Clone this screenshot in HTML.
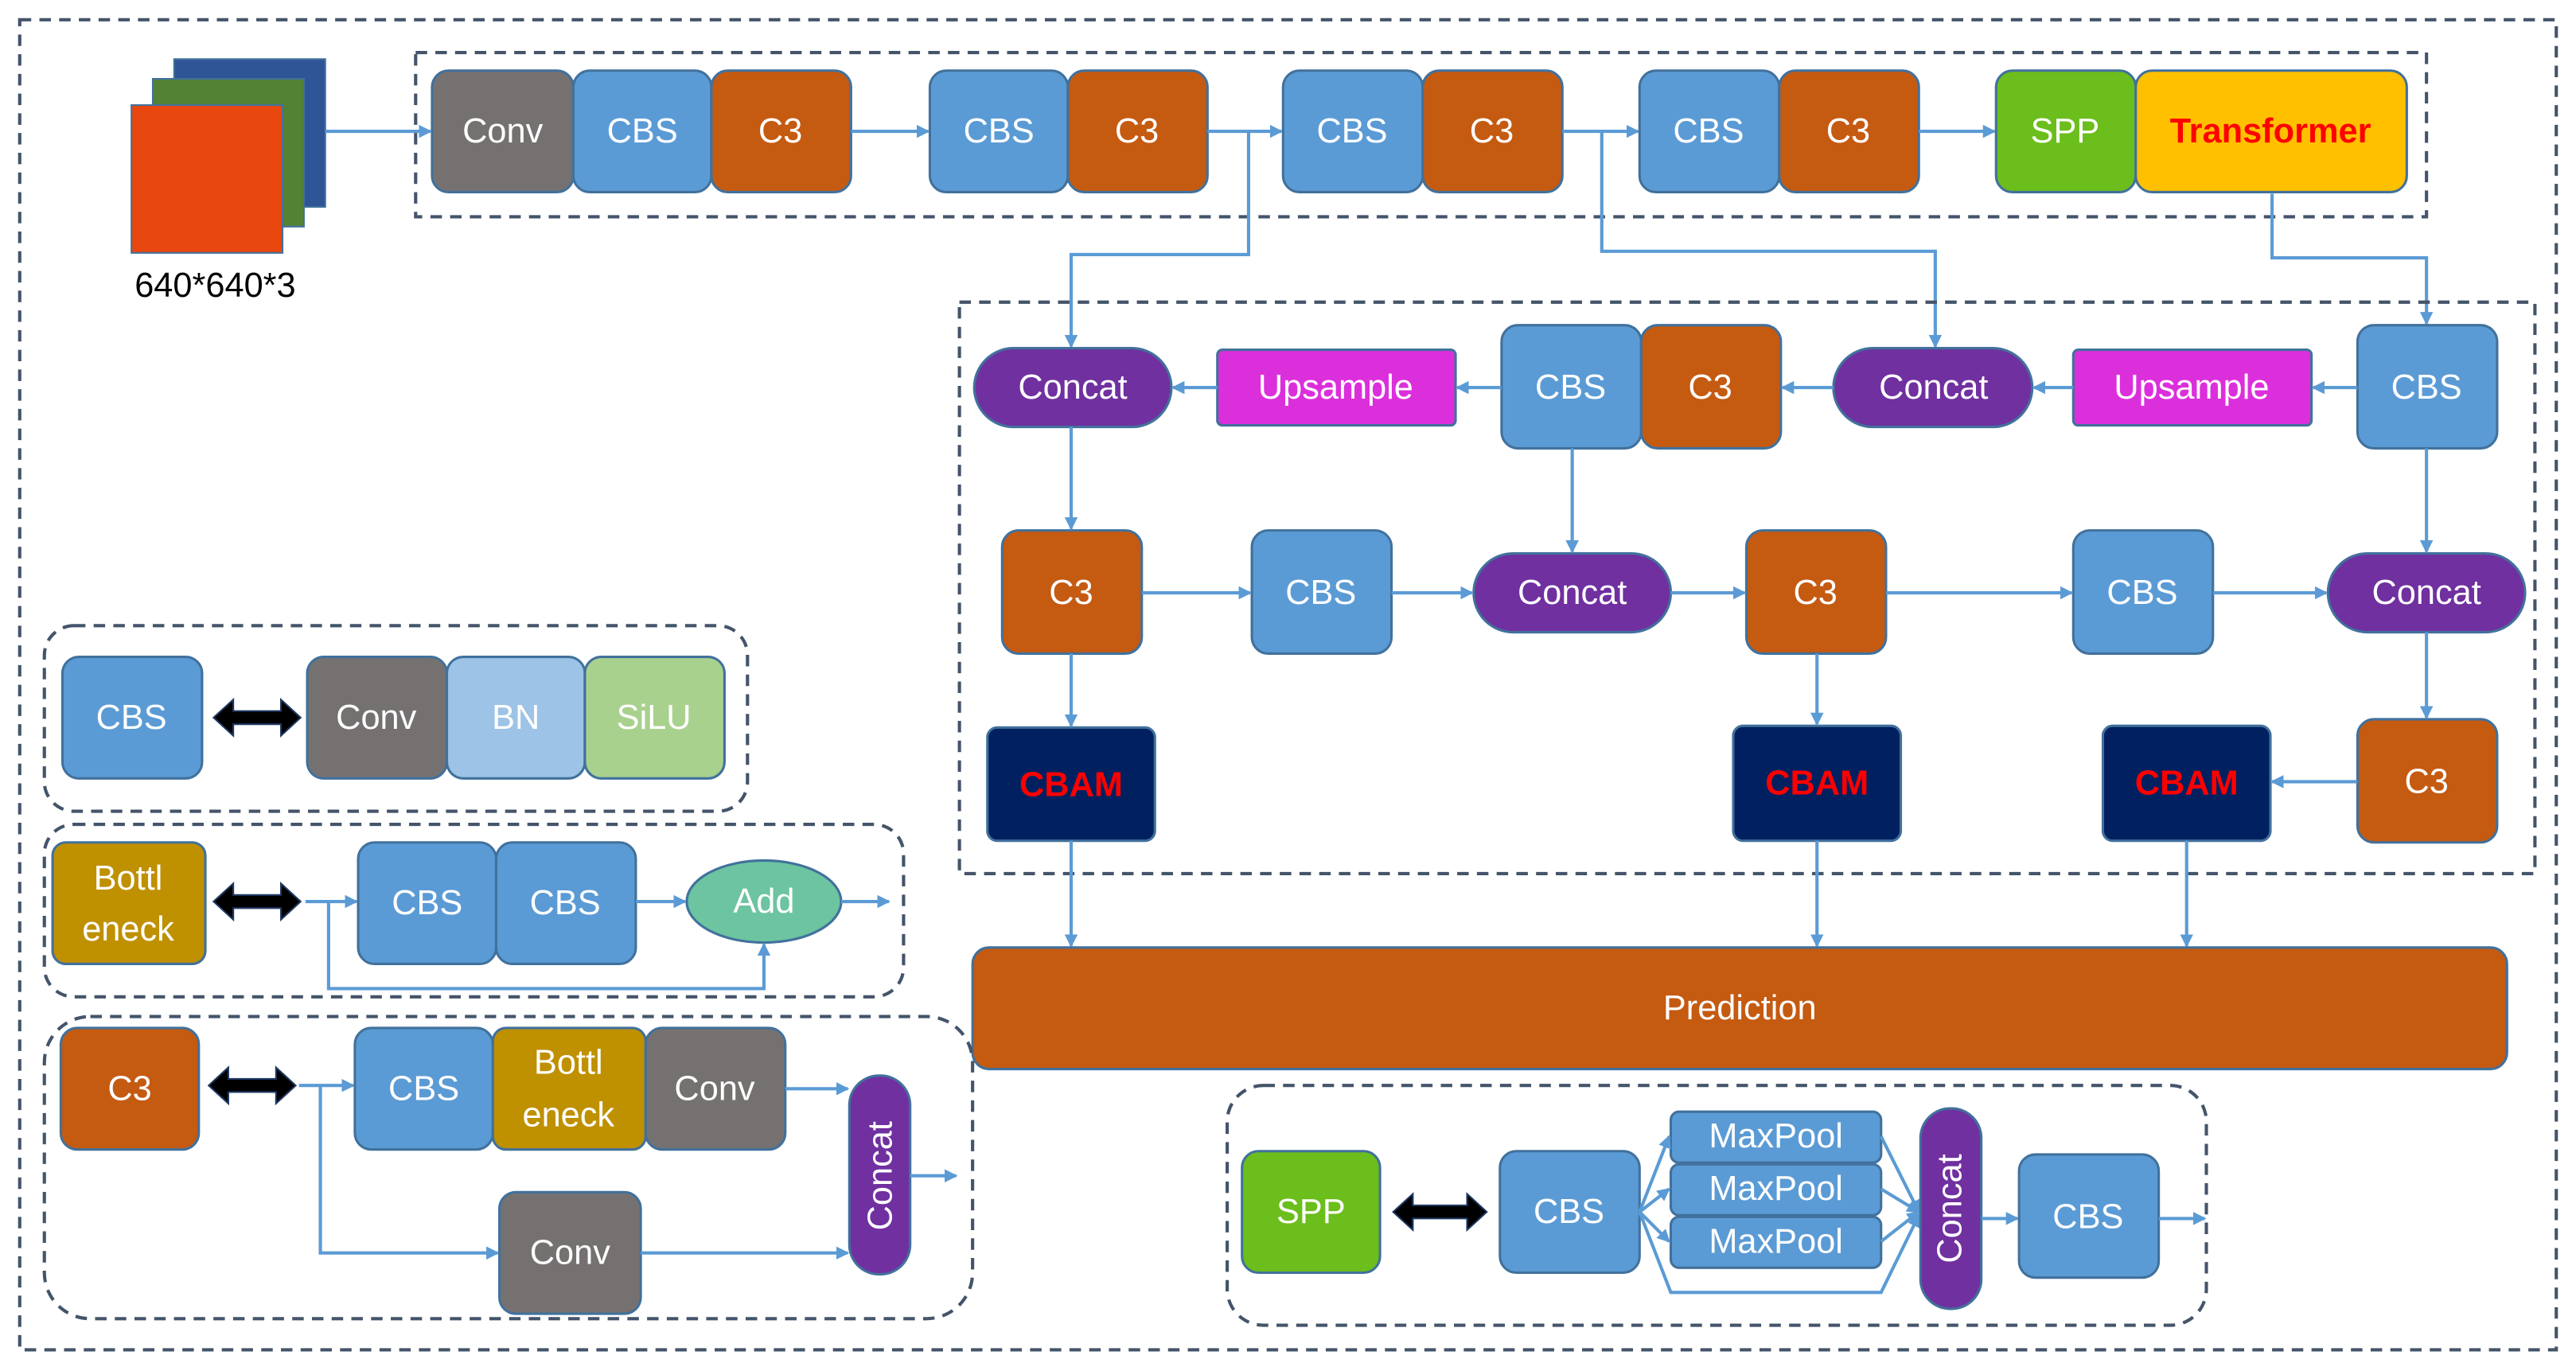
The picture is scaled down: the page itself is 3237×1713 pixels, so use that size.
<!DOCTYPE html>
<html><head><meta charset="utf-8"><style>
html,body{margin:0;padding:0;background:#fff;}
svg{display:block;}
text{font-family:"Liberation Sans",sans-serif;fill:#fff;font-size:21px;text-anchor:middle;dominant-baseline:central;}
.b{stroke:#41719C;stroke-width:1.5;}
.c{stroke:#5B9BD5;stroke-width:2;fill:none;}
.d{stroke:#44546A;stroke-width:2;fill:none;stroke-dasharray:7,5;}
</style></head><body>
<svg width="3237" height="1713" viewBox="0 0 1568 830" preserveAspectRatio="none" xmlns="http://www.w3.org/2000/svg">
<defs>
<marker id="a" markerWidth="8" markerHeight="8" refX="7" refY="4" orient="auto" markerUnits="userSpaceOnUse"><path d="M0,0 L8,4 L0,8 z" fill="#5B9BD5"/></marker>
</defs>
<!-- outer -->
<rect x="12" y="12" width="1544" height="810" class="d"/>
<!-- input -->
<rect x="106" y="36" width="92" height="90" fill="#2F5597" stroke="#41719C"/>
<rect x="93" y="48" width="92" height="90" fill="#548235" stroke="#41719C"/>
<rect x="80" y="64" width="92" height="90" fill="#E8470F" stroke="#41719C"/>
<text x="131" y="174" style="fill:#000;font-size:21px">640*640*3</text>
<path d="M198,80 L262,80" class="c" marker-end="url(#a)"/>
<!-- top box -->
<rect x="253" y="32" width="1224" height="100" class="d"/>
<rect x="263" y="43" width="86" height="74" rx="10" fill="#767171" class="b"/><text x="306" y="80">Conv</text>
<rect x="349" y="43" width="84" height="74" rx="10" fill="#5B9BD5" class="b"/><text x="391" y="80">CBS</text>
<rect x="433" y="43" width="85" height="74" rx="10" fill="#C55A11" class="b"/><text x="475" y="80">C3</text>
<path d="M518,80 L565,80" class="c" marker-end="url(#a)"/>
<rect x="566" y="43" width="84" height="74" rx="10" fill="#5B9BD5" class="b"/><text x="608" y="80">CBS</text>
<rect x="650" y="43" width="85" height="74" rx="10" fill="#C55A11" class="b"/><text x="692" y="80">C3</text>
<path d="M735,80 L780,80" class="c" marker-end="url(#a)"/>
<rect x="781" y="43" width="85" height="74" rx="10" fill="#5B9BD5" class="b"/><text x="823" y="80">CBS</text>
<rect x="866" y="43" width="85" height="74" rx="10" fill="#C55A11" class="b"/><text x="908" y="80">C3</text>
<path d="M951,80 L997,80" class="c" marker-end="url(#a)"/>
<rect x="998" y="43" width="85" height="74" rx="10" fill="#5B9BD5" class="b"/><text x="1040" y="80">CBS</text>
<rect x="1083" y="43" width="85" height="74" rx="10" fill="#C55A11" class="b"/><text x="1125" y="80">C3</text>
<path d="M1168,80 L1214,80" class="c" marker-end="url(#a)"/>
<rect x="1215" y="43" width="85" height="74" rx="10" fill="#6BBE1B" class="b"/><text x="1257" y="80">SPP</text>
<rect x="1300" y="43" width="165" height="74" rx="10" fill="#FFC000" class="b"/><text x="1382" y="80" style="fill:#FF0000;font-weight:bold">Transformer</text>
<!-- connectors down -->
<path d="M760,80 L760,155 L652,155 L652,211" class="c" marker-end="url(#a)"/>
<path d="M975,80 L975,153 L1178,153 L1178,211" class="c" marker-end="url(#a)"/>
<path d="M1383,118 L1383,157 L1477,157 L1477,197" class="c" marker-end="url(#a)"/>
<!-- middle box -->
<rect x="584" y="184" width="959" height="348" class="d"/>
<rect x="593" y="212" width="120" height="48" rx="24" fill="#7030A0" class="b"/><text x="653" y="236">Concat</text>
<rect x="741" y="213" width="145" height="46" fill="#DC2FDC" class="b" rx="3"/><text x="813" y="236">Upsample</text>
<rect x="914" y="198" width="85" height="75" rx="10" fill="#5B9BD5" class="b"/><text x="956" y="236">CBS</text>
<rect x="999" y="198" width="85" height="75" rx="10" fill="#C55A11" class="b"/><text x="1041" y="236">C3</text>
<rect x="1116" y="212" width="121" height="48" rx="24" fill="#7030A0" class="b"/><text x="1177" y="236">Concat</text>
<rect x="1262" y="213" width="145" height="46" fill="#DC2FDC" class="b" rx="3"/><text x="1334" y="236">Upsample</text>
<rect x="1435" y="198" width="85" height="75" rx="10" fill="#5B9BD5" class="b"/><text x="1477" y="236">CBS</text>
<path d="M1435,236 L1408,236" class="c" marker-end="url(#a)"/>
<path d="M1262,236 L1238,236" class="c" marker-end="url(#a)"/>
<path d="M1116,236 L1085,236" class="c" marker-end="url(#a)"/>
<path d="M914,236 L887,236" class="c" marker-end="url(#a)"/>
<path d="M741,236 L714,236" class="c" marker-end="url(#a)"/>
<!-- row 2 -->
<rect x="610" y="323" width="85" height="75" rx="10" fill="#C55A11" class="b"/><text x="652" y="361">C3</text>
<rect x="762" y="323" width="85" height="75" rx="10" fill="#5B9BD5" class="b"/><text x="804" y="361">CBS</text>
<rect x="897" y="337" width="120" height="48" rx="24" fill="#7030A0" class="b"/><text x="957" y="361">Concat</text>
<rect x="1063" y="323" width="85" height="75" rx="10" fill="#C55A11" class="b"/><text x="1105" y="361">C3</text>
<rect x="1262" y="323" width="85" height="75" rx="10" fill="#5B9BD5" class="b"/><text x="1304" y="361">CBS</text>
<rect x="1417" y="337" width="120" height="48" rx="24" fill="#7030A0" class="b"/><text x="1477" y="361">Concat</text>
<path d="M695,361 L761,361" class="c" marker-end="url(#a)"/>
<path d="M847,361 L896,361" class="c" marker-end="url(#a)"/>
<path d="M1017,361 L1062,361" class="c" marker-end="url(#a)"/>
<path d="M1148,361 L1261,361" class="c" marker-end="url(#a)"/>
<path d="M1347,361 L1416,361" class="c" marker-end="url(#a)"/>
<path d="M652,260 L652,322" class="c" marker-end="url(#a)"/>
<path d="M957,273 L957,336" class="c" marker-end="url(#a)"/>
<path d="M1477,273 L1477,336" class="c" marker-end="url(#a)"/>
<!-- row 3 -->
<rect x="601" y="443" width="102" height="69" rx="6" fill="#002060" class="b"/><text x="652" y="478" style="fill:#FF0000;font-weight:bold">CBAM</text>
<rect x="1055" y="442" width="102" height="70" rx="6" fill="#002060" class="b"/><text x="1106" y="477" style="fill:#FF0000;font-weight:bold">CBAM</text>
<rect x="1280" y="442" width="102" height="70" rx="6" fill="#002060" class="b"/><text x="1331" y="477" style="fill:#FF0000;font-weight:bold">CBAM</text>
<rect x="1435" y="438" width="85" height="75" rx="10" fill="#C55A11" class="b"/><text x="1477" y="476">C3</text>
<path d="M652,398 L652,442" class="c" marker-end="url(#a)"/>
<path d="M1106,398 L1106,441" class="c" marker-end="url(#a)"/>
<path d="M1477,385 L1477,437" class="c" marker-end="url(#a)"/>
<path d="M1435,476 L1383,476" class="c" marker-end="url(#a)"/>
<path d="M652,512 L652,576" class="c" marker-end="url(#a)"/>
<path d="M1106,512 L1106,576" class="c" marker-end="url(#a)"/>
<path d="M1331,512 L1331,576" class="c" marker-end="url(#a)"/>
<rect x="592" y="577" width="934" height="74" rx="10" fill="#C55A11" class="b"/><text x="1059" y="614">Prediction</text>
<!-- legend 1 -->
<rect x="27" y="381" width="428" height="113" rx="18" class="d"/>
<rect x="38" y="400" width="85" height="74" rx="10" fill="#5B9BD5" class="b"/><text x="80" y="437">CBS</text>
<polygon points="130,437 142,426 142,433 171,433 171,426 183,437 171,448 171,441 142,441 142,448" fill="#000" stroke="#1F3864"/>
<rect x="187" y="400" width="85" height="74" rx="10" fill="#767171" class="b"/><text x="229" y="437">Conv</text>
<rect x="272" y="400" width="84" height="74" rx="10" fill="#9DC3E6" class="b"/><text x="314" y="437">BN</text>
<rect x="356" y="400" width="85" height="74" rx="10" fill="#A9D18E" class="b"/><text x="398" y="437">SiLU</text>
<!-- legend 2 -->
<rect x="27" y="502" width="523" height="105" rx="18" class="d"/>
<rect x="32" y="513" width="93" height="74" rx="8" fill="#BF9000" class="b"/><text x="78" y="535">Bottl</text><text x="78" y="566">eneck</text>
<polygon points="130,549 142,538 142,545 171,545 171,538 183,549 171,560 171,553 142,553 142,560" fill="#000" stroke="#1F3864"/>
<path d="M186,549 L217,549" class="c" marker-end="url(#a)"/>
<rect x="218" y="513" width="84" height="74" rx="10" fill="#5B9BD5" class="b"/><text x="260" y="550">CBS</text>
<rect x="302" y="513" width="85" height="74" rx="10" fill="#5B9BD5" class="b"/><text x="344" y="550">CBS</text>
<path d="M387,549 L417,549" class="c" marker-end="url(#a)"/>
<ellipse cx="465" cy="549" rx="47" ry="25" fill="#6CC4A0" class="b"/><text x="465" y="549">Add</text>
<path d="M512,549 L541,549" class="c" marker-end="url(#a)"/>
<path d="M200,549 L200,602 L465,602 L465,575" class="c" marker-end="url(#a)"/>
<!-- legend 3 -->
<rect x="27" y="619" width="565" height="184" rx="28" class="d"/>
<rect x="37" y="626" width="84" height="74" rx="10" fill="#C55A11" class="b"/><text x="79" y="663">C3</text>
<polygon points="127,661 139,650 139,657 168,657 168,650 180,661 168,672 168,665 139,665 139,672" fill="#000" stroke="#1F3864"/>
<path d="M182,661 L215,661" class="c" marker-end="url(#a)"/>
<rect x="216" y="626" width="84" height="74" rx="10" fill="#5B9BD5" class="b"/><text x="258" y="663">CBS</text>
<rect x="300" y="626" width="93" height="74" rx="8" fill="#BF9000" class="b"/><text x="346" y="647">Bottl</text><text x="346" y="679">eneck</text>
<rect x="393" y="626" width="85" height="74" rx="10" fill="#767171" class="b"/><text x="435" y="663">Conv</text>
<path d="M195,661 L195,763 L303,763" class="c" marker-end="url(#a)"/>
<rect x="304" y="726" width="86" height="74" rx="10" fill="#767171" class="b"/><text x="347" y="763">Conv</text>
<path d="M390,763 L516,763" class="c" marker-end="url(#a)"/>
<path d="M478,663 L516,663" class="c" marker-end="url(#a)"/>
<rect x="517" y="655" width="37" height="121" rx="18" fill="#7030A0" class="b"/>
<text x="536" y="716" transform="rotate(-90 536 716)">Concat</text>
<path d="M554,716 L582,716" class="c" marker-end="url(#a)"/>
<!-- SPP legend -->
<rect x="747" y="661" width="596" height="146" rx="22" class="d"/>
<rect x="756" y="701" width="84" height="74" rx="10" fill="#6BBE1B" class="b"/><text x="798" y="738">SPP</text>
<polygon points="848,738 860,727 860,734 893,734 893,727 905,738 893,749 893,742 860,742 860,749" fill="#000" stroke="#1F3864"/>
<rect x="913" y="701" width="85" height="74" rx="10" fill="#5B9BD5" class="b"/><text x="955" y="738">CBS</text>
<rect x="1017" y="677" width="128" height="31" rx="5" fill="#5B9BD5" class="b"/><text x="1081" y="692">MaxPool</text>
<rect x="1017" y="709" width="128" height="31" rx="5" fill="#5B9BD5" class="b"/><text x="1081" y="724">MaxPool</text>
<rect x="1017" y="741" width="128" height="31" rx="5" fill="#5B9BD5" class="b"/><text x="1081" y="756">MaxPool</text>
<path d="M998,738 L1016,692" class="c" marker-end="url(#a)"/>
<path d="M998,738 L1016,724" class="c" marker-end="url(#a)"/>
<path d="M998,738 L1016,756" class="c" marker-end="url(#a)"/>
<path d="M998,738 L1017,787 L1145,787 L1168,740" class="c" marker-end="url(#a)"/>
<path d="M1145,692 L1168,738" class="c" marker-end="url(#a)"/>
<path d="M1145,724 L1168,738" class="c" marker-end="url(#a)"/>
<path d="M1145,756 L1168,738" class="c" marker-end="url(#a)"/>
<rect x="1169" y="675" width="37" height="122" rx="18" fill="#7030A0" class="b"/>
<text x="1187" y="736" transform="rotate(-90 1187 736)">Concat</text>
<path d="M1206,742 L1228,742" class="c" marker-end="url(#a)"/>
<rect x="1229" y="703" width="85" height="75" rx="10" fill="#5B9BD5" class="b"/><text x="1271" y="741">CBS</text>
<path d="M1314,742 L1342,742" class="c" marker-end="url(#a)"/>
</svg>
</body></html>
